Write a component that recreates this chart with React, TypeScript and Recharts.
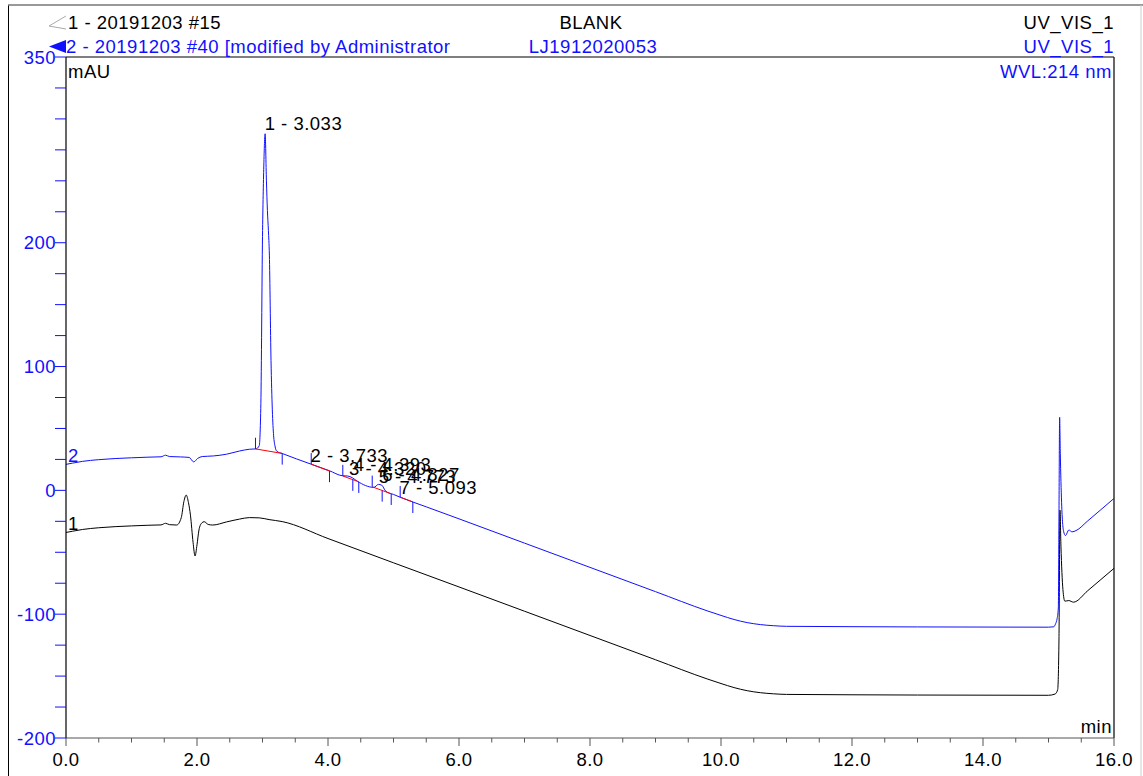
import React from 'react';
import { ComposedChart, Line, XAxis, YAxis, ReferenceLine, Scatter } from 'recharts';

// Trace 2 (blue) - retention time (min) and signal (mAU)
const blueTimes = [0, 0.1, 0.25, 0.5, 0.75, 1.0, 1.25, 1.45, 1.52, 1.58, 1.75, 1.88, 1.95, 2.01, 2.08, 2.25, 2.45, 2.65, 2.8, 2.9, 2.95, 2.975, 3.0, 3.02, 3.04, 3.06, 3.075, 3.09, 3.105, 3.13, 3.15, 3.17, 3.19, 3.22, 3.3, 3.74, 4.02, 4.22, 4.3, 4.37, 4.45, 4.7, 4.77, 4.82, 4.88, 5.0, 5.1, 5.5, 6.0, 7.0, 8.0, 9.0, 9.8, 10.0, 10.2, 10.4, 10.6, 10.8, 11.0, 12.0, 13.0, 14.0, 15.0, 15.08, 15.11, 15.13, 15.15, 15.16, 15.17, 15.18, 15.2, 15.23, 15.26, 15.31, 15.36, 15.42, 15.6, 15.8, 16.0];
const blueValues = [21.0, 22.0, 23.4, 24.8, 25.7, 26.3, 26.8, 27.1, 28.4, 27.3, 27.0, 26.6, 23.0, 25.8, 27.3, 27.8, 29.2, 31.8, 33.2, 33.5, 36, 70, 205, 262, 288, 250, 226, 210, 190, 105, 65, 44, 36, 31.5, 29.8, 21.2, 15.9, 11.8, 11.6, 10.2, 7.3, 2.4, 4.8, 4.2, -0.6, -3.3, -5.5, -13.3, -23.0, -42.6, -62.2, -81.8, -97.5, -101.0, -104.3, -106.8, -108.4, -109.3, -109.8, -110.1, -110.3, -110.4, -110.5, -110.2, -107.5, -104, -95, -20, 59, 30, -10, -33, -36.5, -32, -33.5, -32.5, -24.6, -15.6, -6.5];

// Trace 1 (black)
const blackTimes = [0, 0.1, 0.25, 0.5, 0.75, 1.0, 1.25, 1.45, 1.52, 1.58, 1.69, 1.76, 1.8, 1.835, 1.87, 1.9, 1.94, 1.97, 2.0, 2.03, 2.07, 2.11, 2.17, 2.24, 2.45, 2.65, 2.8, 2.95, 3.1, 3.3, 4.0, 5.0, 6.0, 7.0, 8.0, 9.0, 9.8, 10.0, 10.2, 10.4, 10.6, 10.8, 11.0, 12.0, 13.0, 14.0, 15.0, 15.1, 15.14, 15.16, 15.175, 15.19, 15.22, 15.25, 15.31, 15.38, 15.6, 15.8, 16.0];
const blackValues = [-34.0, -33.0, -31.6, -30.2, -29.3, -28.7, -28.2, -27.9, -26.6, -27.7, -28, -22, -9, -3.8, -10, -20, -42, -53, -44, -32, -26.5, -25.3, -27.5, -28, -25.5, -23.2, -22.0, -22.2, -23.6, -25.2, -38.9, -58.5, -78.0, -97.6, -117.2, -136.8, -152.5, -156.0, -159.3, -161.8, -163.4, -164.3, -164.8, -165.1, -165.3, -165.4, -165.5, -164.5, -161, -120, -16, -45, -80, -89.5, -89, -90.3, -81, -72, -63];

// Peak annotations
const peakTimes = [3.033, 3.733, 4.32, 4.393, 4.773, 4.827, 5.093];
const peakLabelValues = [291, 22.6, 12.1, 15.3, 5.6, 7.3, -3.2];
const peakNames = ['1 - 3.033', '2 - 3.733', '3 - 4.320', '4 - 4.393', '5 - 4.773', '6 - 4.827', '7 - 5.093'];

// Peak delimiters (time, trace value, direction: 1 above, -1 below)
const delimTimes = [2.893, 3.301, 3.744, 4.023, 4.226, 4.379, 4.47, 4.675, 4.827, 4.965, 5.102, 5.295];
const delimValues = [33.5, 29.8, 21.1, 15.6, 11.6, 8.6, 6.9, 2.9, -0.1, -2.8, -5.5, -9.3];
const delimDirs = [1, -1, 1, -1, 1, -1, -1, 1, -1, -1, 1, -1];

// Integration baselines
const baseStartTimes = [2.893, 3.744, 4.226, 4.675, 5.102];
const baseStartValues = [33.5, 21.1, 11.6, 2.9, -5.5];
const baseEndTimes = [3.301, 4.023, 4.47, 4.965, 5.295];
const baseEndValues = [29.8, 15.6, 6.9, -2.8, -9.3];

const xTicks = [0, 0.5, 1, 1.5, 2, 2.5, 3, 3.5, 4, 4.5, 5, 5.5, 6, 6.5, 7, 7.5, 8, 8.5, 9, 9.5, 10, 10.5, 11, 11.5, 12, 12.5, 13, 13.5, 14, 14.5, 15, 15.5, 16];
const xLabeled = [0, 2, 4, 6, 8, 10, 12, 14, 16];
const yTicks = [-200, -175, -150, -125, -100, -75, -50, -25, 0, 25, 50, 75, 100, 125, 150, 175, 200, 225, 250, 275, 300, 325, 350];
const yLabeled = [350, 200, 100, 0, -100, -200];

const BLUE = '#1010ff';
const FONT = '"Liberation Sans", Arial, sans-serif';
const FS = 18.5;
const LS = 0.5;

const blueData = blueTimes.map((t, i) => ({ t, v: blueValues[i] }));
const blackData = blackTimes.map((t, i) => ({ t, v: blackValues[i] }));
const peakData = peakTimes.map((t, i) => ({ t, v: peakLabelValues[i], name: peakNames[i] }));

const XTick = (props: any) => {
  const { x, y, payload } = props;
  const major = xLabeled.includes(payload.value);
  return (
    <g>
      <line x1={x} y1={y} x2={x} y2={y + (major ? 8 : 4.5)} stroke="#555" strokeWidth={1} />
      {major && (
        <text x={x} y={y + 28} textAnchor="middle" fill="#000" fontSize={FS} fontFamily={FONT} letterSpacing={LS}>
          {payload.value.toFixed(1)}
        </text>
      )}
    </g>
  );
};

const YTick = (props: any) => {
  const { x, y, payload } = props;
  const lab = yLabeled.includes(payload.value);
  return (
    <g>
      <line x1={x - 11} y1={y} x2={x} y2={y} stroke={BLUE} strokeWidth={1} />
      {lab && (
        <text x={x - 10} y={y + 6.5} textAnchor="end" fill={BLUE} fontSize={FS} fontFamily={FONT} letterSpacing={LS}>
          {payload.value}
        </text>
      )}
    </g>
  );
};

const PeakLabel = (props: any) => {
  const { cx, cy, payload } = props;
  return (
    <text x={cx} y={cy} textAnchor="start" fill="#000" fontSize={FS} fontFamily={FONT} letterSpacing={LS}>
      {payload.name}
    </text>
  );
};

export default function App() {
  return (
    <div style={{ position: 'absolute', left: 0, top: 0, width: 1143, height: 776, background: '#fff' }}>
      <div style={{ position: 'absolute', left: 0, top: 0 }}>
        <ComposedChart width={1143} height={776} margin={{ top: 57, right: 29, bottom: 8, left: 0 }}>
          <XAxis
            dataKey="t"
            type="number"
            domain={[0, 16]}
            ticks={xTicks}
            interval={0}
            allowDataOverflow
            height={30}
            tickLine={false}
            tickSize={0}
            tickMargin={0}
            axisLine={{ stroke: '#555', strokeWidth: 1.2 }}
            tick={<XTick />}
          />
          <YAxis
            dataKey="v"
            type="number"
            domain={[-200, 350]}
            ticks={yTicks}
            interval={0}
            allowDataOverflow
            width={66}
            tickLine={false}
            tickSize={0}
            tickMargin={0}
            axisLine={{ stroke: '#000', strokeWidth: 1.2 }}
            tick={<YTick />}
          />
          <ReferenceLine y={350} stroke="#000" strokeWidth={1.2} />
          <ReferenceLine x={16} stroke="#000" strokeWidth={1.2} />
          <Line data={blackData} dataKey="v" type="monotone" stroke="#000" strokeWidth={1} dot={false} isAnimationActive={false} />
          <Line data={blueData} dataKey="v" type="monotone" stroke={BLUE} strokeWidth={1} dot={false} isAnimationActive={false} />
          {baseStartTimes.map((t, i) => (
            <ReferenceLine
              key={'b' + i}
              segment={[{ x: t, y: baseStartValues[i] }, { x: baseEndTimes[i], y: baseEndValues[i] }]}
              stroke="#ff0000"
              strokeWidth={1}
            />
          ))}
          {delimTimes.map((t, i) => (
            <ReferenceLine
              key={'d' + i}
              segment={[{ x: t, y: delimValues[i] }, { x: t, y: delimValues[i] + delimDirs[i] * 9 }]}
              stroke={BLUE}
              strokeWidth={1}
            />
          ))}
          <Scatter data={peakData} dataKey="v" shape={<PeakLabel />} isAnimationActive={false} />
        </ComposedChart>
      </div>
      <svg width={1143} height={776} style={{ position: 'absolute', left: 0, top: 0, pointerEvents: 'none' }}>
        <line x1={8.5} y1={5} x2={8.5} y2={776} stroke="#000" strokeWidth={1} />
        <line x1={8} y1={5} x2={1143} y2={5} stroke="#777" strokeWidth={1.5} />
        <line x1={1141} y1={5} x2={1141} y2={776} stroke="#ccc" strokeWidth={1} />
        <polyline points="66,16 49,26 66,29" fill="none" stroke="#aaa" strokeWidth={1} />
        <polygon points="49,46.5 66,40 66,53" fill={BLUE} />
        <g fontFamily={FONT} fontSize={FS} letterSpacing={LS}>
          <text x={68} y={28.5} fill="#000">1 - 20191203 #15</text>
          <text x={591} y={28.5} fill="#000" textAnchor="middle">BLANK</text>
          <text x={1114} y={28.5} fill="#000" textAnchor="end">UV_VIS_1</text>
          <text x={66} y={52.5} fill={BLUE}>2 - 20191203 #40 [modified by Administrator</text>
          <text x={593} y={52.5} fill={BLUE} textAnchor="middle">LJ1912020053</text>
          <text x={1114} y={52.5} fill={BLUE} textAnchor="end">UV_VIS_1</text>
          <text x={68} y={77.5} fill="#000">mAU</text>
          <text x={1112} y={77.5} fill={BLUE} textAnchor="end">WVL:214 nm</text>
          <text x={1112} y={733} fill="#000" textAnchor="end">min</text>
          <text x={68} y={461.5} fill={BLUE}>2</text>
          <text x={68} y={530} fill="#000">1</text>
        </g>
      </svg>
    </div>
  );
}
